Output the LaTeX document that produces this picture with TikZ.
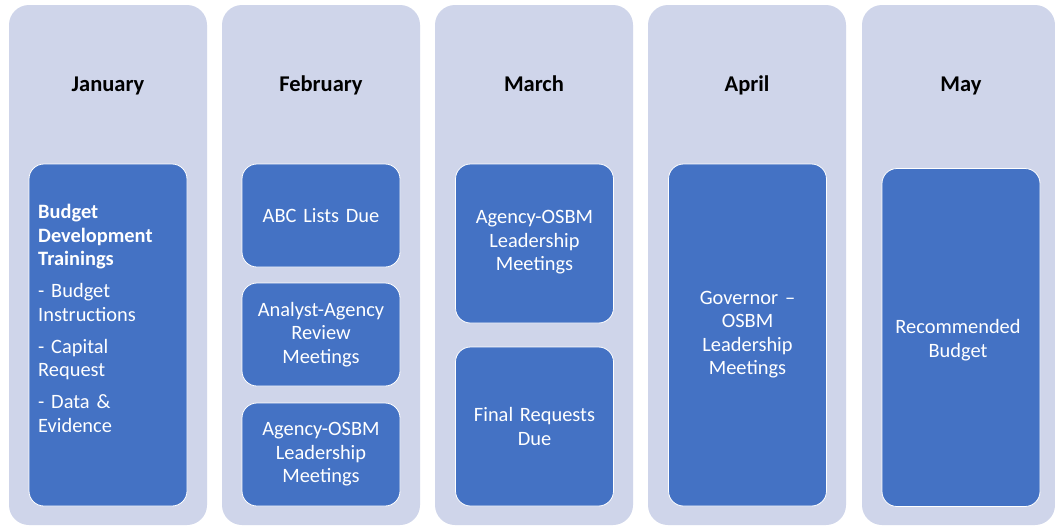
\documentclass[tikz,border=0pt]{standalone}
\usepackage{fontspec}
\setmainfont{Carlito}
\definecolor{colbg}{HTML}{CFD5EA}
\definecolor{boxbg}{HTML}{4472C4}
\begin{document}
\begin{tikzpicture}[x=1pt,y=-1pt,
  column/.style={fill=colbg, draw=none, rounded corners=20pt, minimum width=198pt, inner sep=0pt},
  head/.style={font=\fontsize{22.5}{27}\selectfont\bfseries, text=black, inner sep=0pt, anchor=base},
  task/.style={fill=boxbg, draw=white, line width=0.8pt, rounded corners=15pt, minimum width=158pt, inner sep=0pt},
  tasktext/.style={text=white, font=\fontsize{20.4}{23.5}\selectfont, align=center, text width=154pt, inner sep=0pt}]
\useasboundingbox (0,0) rectangle (1055,528);
\fill[white] (0,0) rectangle (1055,528);
% columns
\node[column, minimum height=520pt] (c1) at (108,265) {};
\node[column, minimum height=520pt] (c2) at (321,265) {};
\node[column, minimum height=520pt] (c3) at (534,265) {};
\node[column, minimum height=520pt] (c4) at (747,265) {};
\node[column, minimum height=520pt, minimum width=193pt] (c5) at (958.5,265) {};
% headings
\node[head] (h1) at (108,91) {January};
\node[head] (h2) at (321,91) {February};
\node[head] (h3) at (534,91) {March};
\node[head] (h4) at (747,91) {April};
\node[head] (h5) at (961,91) {May};
% January
\node[task, minimum height=342pt] (j1) at (108,335) {};
\node[text=white, font=\fontsize{20.4}{23.5}\selectfont, align=left, text width=150pt, inner sep=0pt, anchor=north west] (j1t) at (38,204)
  {\textbf{Budget}\\\textbf{Development}\\\textbf{Trainings}\\[8.5pt]- Budget\\Instructions\\[8.5pt]- Capital\\Request\\[8.5pt]- Data \&\\Evidence};
% February
\node[task, minimum height=103pt] (f1) at (321,215.5) {};
\node[tasktext] (f1t) at (321,215.5) {ABC Lists Due};
\node[task, minimum height=103pt] (f2) at (321,334.5) {};
\node[tasktext] (f2t) at (321,334.5) {Analyst-Agency\\Review\\Meetings};
\node[task, minimum height=103pt] (f3) at (321,454.5) {};
\node[tasktext] (f3t) at (321,454.5) {Agency-OSBM\\Leadership\\Meetings};
% March
\node[task, minimum height=159pt] (m1) at (534.5,243.5) {};
\node[tasktext] (m1t) at (534.5,242.5) {Agency-OSBM\\Leadership\\Meetings};
\node[task, minimum height=159pt] (m2) at (534.5,426.5) {};
\node[tasktext] (m2t) at (534.5,426.5) {Final Requests\\Due};
% April
\node[task, minimum height=342pt] (a1) at (747.5,335) {};
\node[tasktext] (a1t) at (747.5,334.5) {Governor –\\OSBM\\Leadership\\Meetings};
% May
\node[task, minimum height=338pt] (y1) at (961,337.5) {};
\node[tasktext] (y1t) at (958,340) {Recommended\\Budget};
\end{tikzpicture}
\end{document}
